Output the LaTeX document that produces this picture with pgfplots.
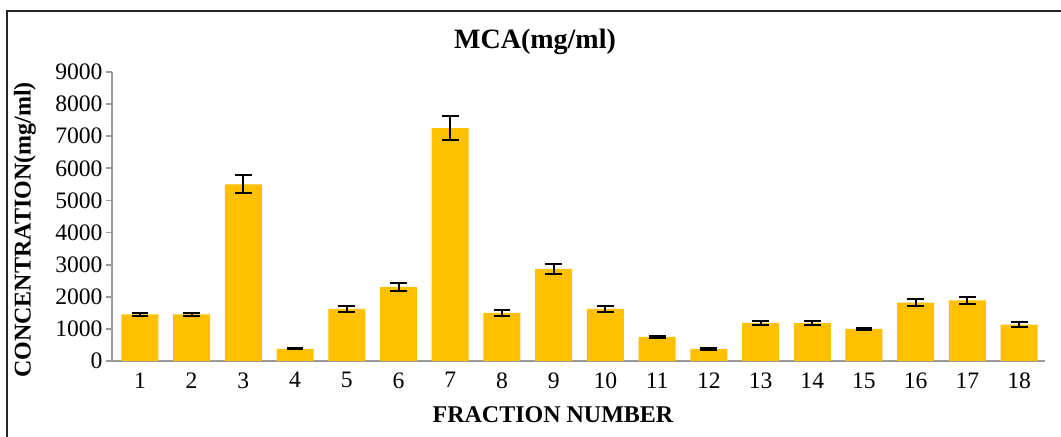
\documentclass[border=0pt]{standalone}
\usepackage{pgfplots}
\pgfplotsset{compat=1.18}
\usepackage{pgfplotstable}
\usepackage{fontspec}
\setmainfont{Liberation Serif}
\definecolor{bargold}{HTML}{FFC000}
\definecolor{axgray}{HTML}{9A9A9A}
\pgfplotstableread{
x y err
1 1450 60
2 1450 60
3 5500 280
4 380 15
5 1620 95
6 2310 120
7 7250 380
8 1500 90
9 2870 150
10 1620 100
11 750 25
12 375 25
13 1190 65
14 1180 70
15 1000 25
16 1820 110
17 1890 110
18 1130 75
}\datatable
\begin{document}
\begin{tikzpicture}
\path[use as bounding box] (0,0) rectangle (530.5pt,218.5pt);
\fill[white] (0,0) rectangle (530.5pt,218.5pt);
\draw[line width=1pt, black!85] (3.5pt,-5pt) -- (3.5pt,213pt) -- (540pt,213pt);
\begin{axis}[
  at={(56pt,38pt)}, anchor=origin,
  scale only axis, width=466.5pt, height=144.5pt,
  xmin=0.46, xmax=18.5, ymin=0, ymax=9000,
  axis x line=bottom, axis y line=left,
  axis line style={-, axgray, line width=0.9pt},
  xtick={1,...,18}, ytick={0,1000,...,9000},
  x tick style={draw=none},
  y tick style={axgray, line width=0.9pt},
  tick align=outside, major tick length=3pt,
  /pgf/number format/assume math mode=true,
  /pgf/number format/1000 sep={},
  tick label style={font=\fontsize{11.8}{12}\selectfont, black},
  yticklabel style={xshift=1.8pt},
  xticklabel style={yshift=0.8pt},
  scaled y ticks=false,
  ybar, bar width=18.5pt,
]
\addplot[fill=bargold, draw=none,
  error bars/.cd, y dir=both, y explicit,
  error bar style={black, line width=1pt},
  error mark options={black, line width=1pt, mark size=4.2pt, rotate=90}]
  table[x=x, y=y, y error=err] {\datatable};
\end{axis}
\node[font=\fontsize{14}{16}\selectfont\bfseries] at (267.5pt,197.5pt) {MCA(mg/ml)};
\node[font=\fontsize{12}{14}\selectfont\bfseries] at (276.5pt,11pt) {FRACTION NUMBER};
\node[font=\fontsize{12}{14}\selectfont\bfseries, rotate=90] at (12.5pt,103.5pt) {CONCENTRATION(mg/ml)};
\end{tikzpicture}
\end{document}
